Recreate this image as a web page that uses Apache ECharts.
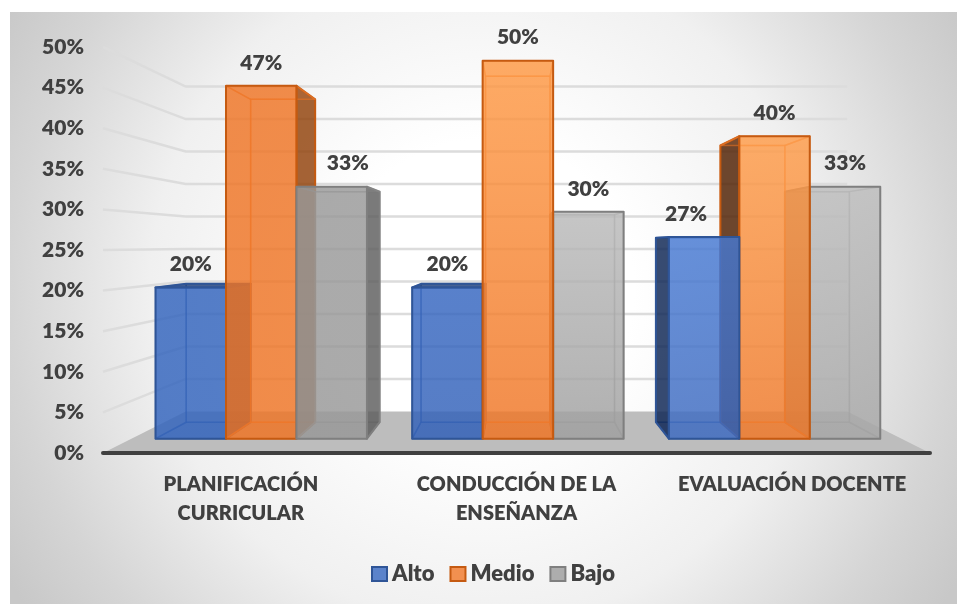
<!DOCTYPE html>
<html>
<head>
<meta charset="utf-8">
<title>Grafico</title>
<style>
  html, body { margin: 0; padding: 0; background: #fff; }
  #chart { width: 957px; height: 604px; }
</style>
<script src="https://cdn.jsdelivr.net/npm/echarts@6/dist/echarts.min.js"></script>
</head>
<body>
<div id="chart"></div>
<script>
var categories = ["PLANIFICACIÓN\nCURRICULAR", "CONDUCCIÓN DE LA\nENSEÑANZA", "EVALUACIÓN DOCENTE"];
var seriesNames = ["Alto", "Medio", "Bajo"];
var alto = [20, 20, 26.67];
var medio = [46.67, 50, 40];
var bajo = [33.33, 30, 33.33];
var seriesValues = [alto, medio, bajo];
var yTicks = [0, 5, 10, 15, 20, 25, 30, 35, 40, 45, 50];

// perspective of the fake 3d box: everything shrinks towards this point
var VP = [516.5, 245];
var K_FRONT = 0.931;
var K_BACK = 0.852;
var K_WALL = 0.8;
var BAR_W = 0.2746; // part of a category band
var BAR_SHIFT = 1.5;
var TEXT = "#404040";
var FONT = "Lato";
var WEIGHT = 800;

var edgeColors = ["#2f5597", "#c55a11", "#7f7f7f"];
var innerEdges = ["rgba(47,85,151,0.45)", "rgba(238,125,49,0.55)", "rgba(140,140,140,0.45)"];
var legendFill = ["#5b83cb", "#f29050", "#adadad"];
// front face, top and bottom colour [category][series]
var frontTop = [
  ["#3163bd", "#ef7424", "#989898"],
  ["#3465c0", "#ff9a45", "#bababa"],
  ["#4679d3", "#ff9d4a", "#bdbdbd"]
];
var frontBottom = [
  ["#3163bd", "#ef7424", "#989898"],
  ["#3160b8", "#ef7424", "#9f9f9f"],
  ["#3d6ac0", "#f07828", "#a6a6a6"]
];
var darkSide = [
  ["#1d3d78", "#8e4009", "#5b5b5b"],
  ["#1d3d78", "#8e4009", "#6b6b6b"],
  ["#0a2250", "#4b1d00", "#8a8a8a"]
];
// data labels that were moved by hand in the original
var labelShift = [
  [0, 0, 16],
  [0, 0, 0],
  [-18, 0, 0]
];

function project(p, k) {
  return [VP[0] + (p[0] - VP[0]) * k, VP[1] + (p[1] - VP[1]) * k];
}

function poly(points, fill, stroke, lw, z2) {
  return {
    type: "polygon",
    z2: z2,
    shape: { points: points },
    style: { fill: fill, stroke: stroke, lineWidth: lw, lineJoin: "round" },
    silent: true
  };
}

function renderWalls(params, api) {
  var v = api.value(0);
  var band = api.size([1, 0])[0];
  var left = api.coord([0, v])[0] - band / 2;
  var right = left + band * 3;
  var y = api.coord([0, v])[1];
  var a = project([left, y], K_WALL);
  var b = project([right, y], K_WALL);
  if (v === 0) {
    return poly([[left, y], a, b, [right, y]], "#bdbdbd", "none", 0, 1);
  }
  return {
    type: "polyline",
    z2: 2,
    silent: true,
    shape: { points: [[left, y], a, b] },
    style: { fill: "none", stroke: "#dcdcdc", lineWidth: 2.5 }
  };
}

function renderBox(s) {
  return function (params, api) {
    var c = api.value(0);
    var v = api.value(1);
    var band = api.size([1, 0])[0];
    var center = api.coord([c, 0])[0] + BAR_SHIFT + (s - 1) * BAR_W * band;
    var l = center - BAR_W * band / 2;
    var r = center + BAR_W * band / 2;
    var yTop = api.coord([c, v])[1];
    var yBase = api.coord([c, 0])[1];

    var fl = project([l, yBase], K_FRONT), fr = project([r, yBase], K_FRONT);
    var ftl = project([l, yTop], K_FRONT), ftr = project([r, yTop], K_FRONT);
    var bl = project([l, yBase], K_BACK), br = project([r, yBase], K_BACK);
    var btl = project([l, yTop], K_BACK), btr = project([r, yTop], K_BACK);

    var z = 1000 - Math.round(Math.abs((fl[0] + fr[0]) / 2 - VP[0]));
    var edge = edgeColors[s];
    var inner = innerEdges[s];
    var dark = darkSide[c][s];
    var base = frontBottom[c][s];
    var faint = echarts.color.modifyAlpha(base, 0.1);
    var strong = echarts.color.modifyAlpha(dark, 0.8);

    // side faces are only dark when they stick out of the front face
    var leftOut = bl[0] < fl[0];
    var rightOut = br[0] > fr[0];
    var topOut = btl[1] < ftl[1];

    var faces = [
      poly([btl, btr, br, bl], faint, inner, 1.5, z),
      poly([fl, fr, br, bl], echarts.color.modifyAlpha(base, 0.2), inner, 1.5, z),
      poly([ftl, btl, bl, fl], leftOut ? strong : faint, leftOut ? edge : inner, leftOut ? 2 : 1.5, z),
      poly([ftr, btr, br, fr], rightOut ? strong : faint, rightOut ? edge : inner, rightOut ? 2 : 1.5, z),
      poly([ftl, ftr, btr, btl], topOut ? strong : faint, topOut ? edge : inner, topOut ? 2 : 1.5, z),
      poly([ftl, ftr, fr, fl], {
        type: "linear", x: 0, y: 0, x2: 0, y2: 1,
        colorStops: [
          { offset: 0, color: echarts.color.modifyAlpha(frontTop[c][s], 0.8) },
          { offset: 1, color: echarts.color.modifyAlpha(frontBottom[c][s], 0.8) }
        ]
      }, edge, 2, z)
    ];
    faces.push({
      type: "text",
      z2: 2000,
      silent: true,
      style: {
        x: (fl[0] + fr[0]) / 2 + labelShift[c][s],
        y: ftl[1] - 23,
        text: Math.round(v) + "%",
        fill: TEXT,
        font: WEIGHT + " 21px " + FONT,
        align: "center",
        verticalAlign: "middle"
      }
    });
    return { type: "group", children: faces };
  };
}

var boxSeries = seriesNames.map(function (name, s) {
  return {
    name: name,
    type: "custom",
    coordinateSystem: "cartesian2d",
    clip: false,
    encode: { x: 0, y: 1 },
    itemStyle: { color: legendFill[s], borderColor: edgeColors[s], borderWidth: 2 },
    data: seriesValues[s].map(function (v, c) { return [c, v]; }),
    renderItem: renderBox(s)
  };
});

var wallSeries = {
  name: "walls",
  type: "custom",
  coordinateSystem: "cartesian2d",
  clip: false,
  z: 1,
  encode: { y: 0 },
  data: yTicks.map(function (t) { return [t]; }),
  renderItem: renderWalls
};

var chart = echarts.init(document.getElementById("chart"));
chart.setOption({
  animation: false,
  backgroundColor: "#fff",
  textStyle: { fontFamily: FONT },
  graphic: [{
    type: "rect",
    z: -10,
    silent: true,
    shape: { x: 10, y: 12, width: 947, height: 592 },
    style: {
      fill: {
        type: "radial", x: 0.5, y: 0.47, r: 0.94,
        colorStops: [
          { offset: 0, color: "#ffffff" },
          { offset: 0.27, color: "#ffffff" },
          { offset: 0.6, color: "#f0f0f0" },
          { offset: 0.85, color: "#d5d5d5" },
          { offset: 1, color: "#c8c8c8" }
        ]
      }
    }
  }],
  grid: { left: 103, right: 27, top: 47, bottom: 151, containLabel: false },
  legend: {
    data: seriesNames,
    left: 366,
    top: 558,
    icon: "rect",
    itemWidth: 15,
    itemHeight: 14,
    itemGap: 15,
    textStyle: { color: TEXT, fontFamily: FONT, fontWeight: WEIGHT, fontSize: 22 }
  },
  xAxis: {
    type: "category",
    z: 5,
    data: categories,
    axisTick: { show: false },
    axisLine: { show: true, lineStyle: { color: "#404040", width: 4, cap: "round" } },
    axisLabel: {
      color: TEXT,
      fontFamily: FONT,
      fontWeight: WEIGHT,
      fontSize: 20,
      lineHeight: 29,
      margin: 17,
      interval: 0
    }
  },
  yAxis: {
    type: "value",
    min: 0,
    max: 50,
    interval: 5,
    axisLine: { show: false },
    axisTick: { show: false },
    splitLine: { show: false },
    axisLabel: {
      color: TEXT,
      fontFamily: FONT,
      fontWeight: WEIGHT,
      fontSize: 21,
      margin: 19,
      padding: [6, 0, 0, 0],
      formatter: "{value}%"
    }
  },
  series: [wallSeries].concat(boxSeries)
});
</script>
</body>
</html>
